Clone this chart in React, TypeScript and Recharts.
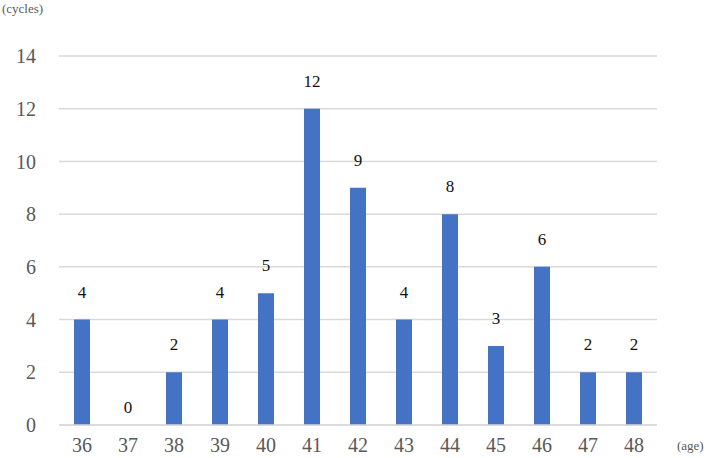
import React from "react";
import { ComposedChart, Bar, Line, XAxis, YAxis, CartesianGrid, LabelList } from "recharts";

const ages = ["36", "37", "38", "39", "40", "41", "42", "43", "44", "45", "46", "47", "48"];
const cycles = [4, 0, 2, 4, 5, 12, 9, 4, 8, 3, 6, 2, 2];
const yTicks = [0, 2, 4, 6, 8, 10, 12, 14];

const data = ages.map((age, i) => ({ age, cycles: cycles[i] }));

const FONT = "Liberation Serif";

// labels hang off an invisible line so the 0 bar gets one too
const valueLabel = (props: any) => {
  const { x, y, value } = props;
  const gap = value === 0 ? 12 : 22;
  return (
    <text
      x={x}
      y={y - gap}
      textAnchor="middle"
      fill="#111"
      fontSize={17}
      fontFamily={FONT}
    >
      {value}
    </text>
  );
};

const App = () => {
  return (
    <div style={{ position: "absolute", left: 0, top: 0, width: 709, height: 458, fontFamily: FONT }}>
      <ComposedChart
        width={709}
        height={458}
        data={data}
        margin={{ top: 56, right: 52, bottom: 0, left: 0 }}
      >
        <CartesianGrid vertical={false} stroke="#d9d9d9" strokeWidth={1.5} />
        <XAxis
          dataKey="age"
          height={33}
          tickLine={false}
          axisLine={{ stroke: "#d9d9d9", strokeWidth: 1.5 }}
          tick={{ fill: "#595959", fontSize: 20, fontFamily: FONT }}
          tickMargin={7}
        />
        <YAxis
          width={59}
          domain={[0, 14]}
          ticks={yTicks}
          axisLine={false}
          tickLine={false}
          tick={{ fill: "#595959", fontSize: 20, fontFamily: FONT }}
          tickMargin={17}
        />
        <Bar dataKey="cycles" fill="#4472C4" barSize={16} isAnimationActive={false} />
        <Line
          dataKey="cycles"
          stroke="none"
          dot={false}
          activeDot={false}
          isAnimationActive={false}
        >
          <LabelList dataKey="cycles" content={valueLabel} />
        </Line>
        <text x={2} y={13} fill="#595959" fontSize={13} fontFamily={FONT}>
          (cycles)
        </text>
        <text x={677} y={450} fill="#595959" fontSize={13} fontFamily={FONT}>
          (age)
        </text>
      </ComposedChart>
    </div>
  );
};

export default App;
